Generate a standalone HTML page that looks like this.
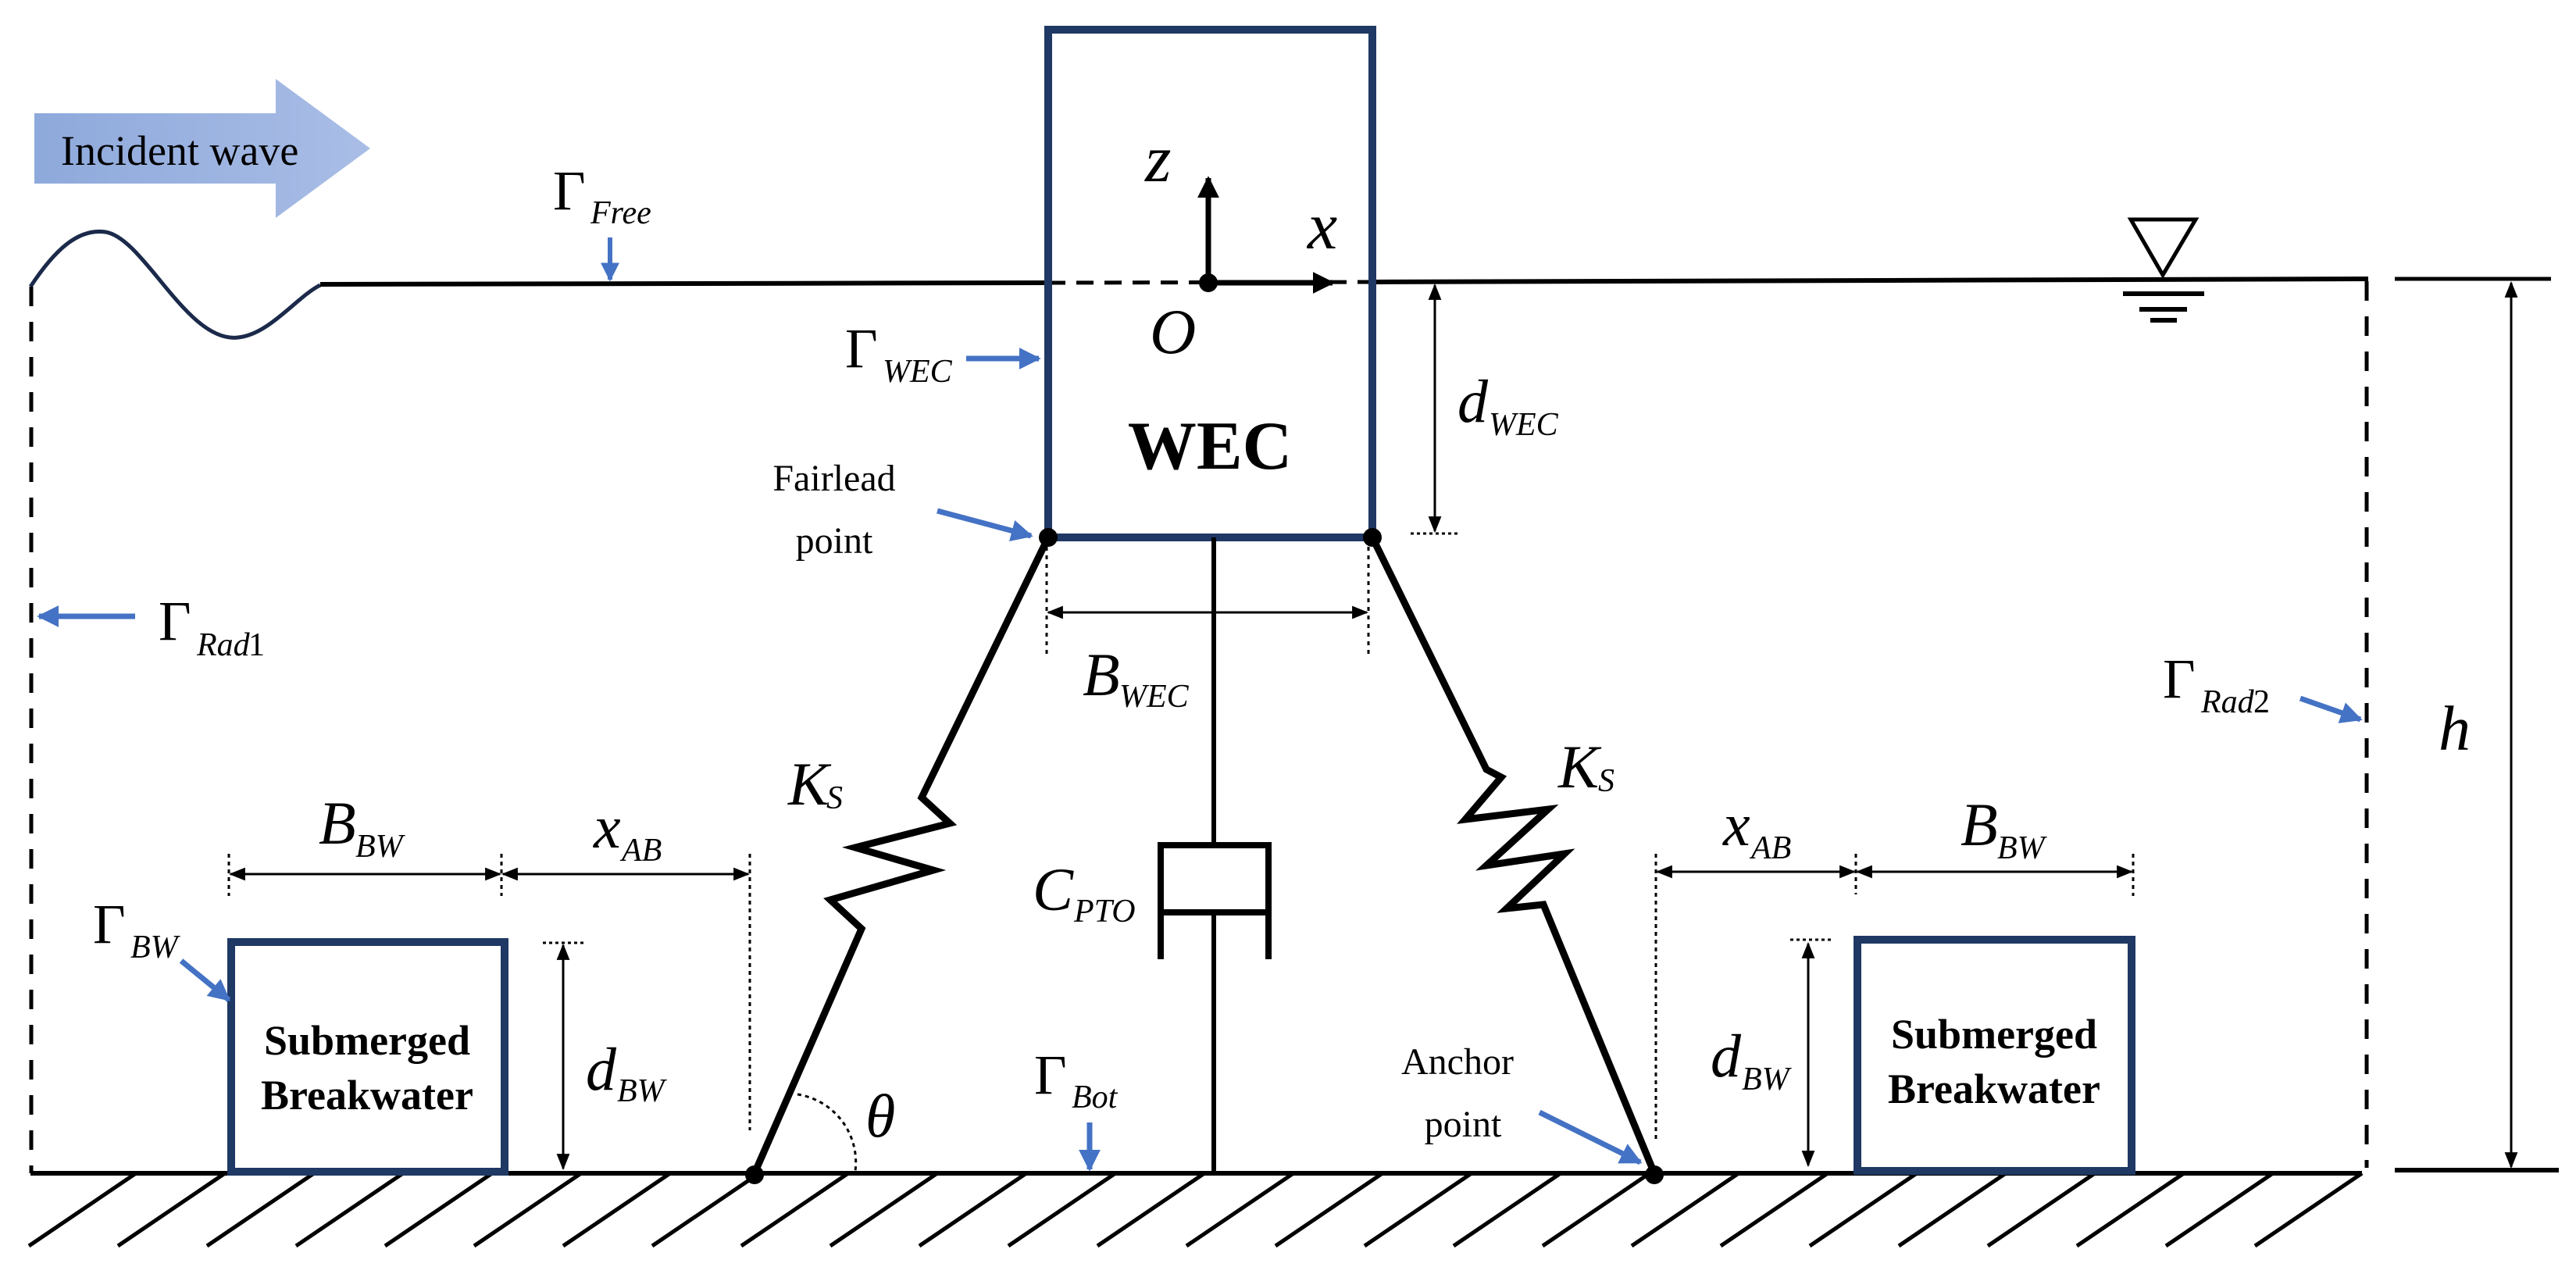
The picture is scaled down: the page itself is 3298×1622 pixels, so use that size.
<!DOCTYPE html>
<html><head><meta charset="utf-8"><style>
html,body{margin:0;padding:0;background:#fff;}
svg{display:block;}
text{font-family:"Liberation Serif",serif;fill:#000;}
.g{font-size:72px;}
.s{font-size:42px;font-style:italic;}
.m{font-style:italic;}
</style></head><body>
<svg width="3298" height="1622" viewBox="0 0 3298 1622" xmlns="http://www.w3.org/2000/svg" font-family="'Liberation Serif', serif">
<defs>
<marker id="bh" viewBox="0 0 10 10" refX="9" refY="5" markerWidth="4" markerHeight="4" orient="auto-start-reverse" markerUnits="strokeWidth"><path d="M0,0 L10,5 L0,10 z" fill="#4472c4"/></marker>
<marker id="kh" viewBox="0 0 10 10" refX="9" refY="5" markerWidth="7" markerHeight="7" orient="auto-start-reverse" markerUnits="strokeWidth"><path d="M0,1 L10,5 L0,9 z" fill="#000"/></marker>
<marker id="ah" viewBox="0 0 10 10" refX="9" refY="5" markerWidth="4" markerHeight="4" orient="auto" markerUnits="strokeWidth"><path d="M0,0 L10,5 L0,10 z" fill="#000"/></marker>
<linearGradient id="ig" x1="0" x2="1" y1="0" y2="0"><stop offset="0" stop-color="#8ea9db"/><stop offset="1" stop-color="#a9bde6"/></linearGradient>
</defs>

<path d="M44,145 L353,145 L353,101 L474,190 L353,279 L353,235 L44,235 z" fill="url(#ig)"/>
<text x="78" y="211" font-size="54" font-family="'Liberation Serif', serif">Incident wave</text>

<path d="M39,367 C70,320 100,292 135,297 C185,305 240,440 305,432 C345,428 380,380 410,365" fill="none" stroke="#1b2a4a" stroke-width="5"/>
<line x1="410" y1="364" x2="1342" y2="362" stroke="#000" stroke-width="6"/>
<line x1="1342" y1="362" x2="1757" y2="361" stroke="#000" stroke-width="5" stroke-dasharray="22,14"/>
<line x1="1757" y1="361" x2="3032" y2="357" stroke="#000" stroke-width="6"/>
<line x1="3066" y1="357" x2="3266" y2="357" stroke="#000" stroke-width="5"/>

<text x="708" y="268" class="g">Γ</text><text x="756" y="286" class="s">Free</text>
<line x1="781" y1="304" x2="781" y2="358" stroke="#4472c4" stroke-width="6" marker-end="url(#bh)"/>

<path d="M2728,281 L2811,281 L2769,352 z" fill="#fff" stroke="#000" stroke-width="5"/>
<line x1="2718" y1="376" x2="2822" y2="376" stroke="#000" stroke-width="6"/>
<line x1="2739" y1="396" x2="2800" y2="396" stroke="#000" stroke-width="6"/>
<line x1="2753" y1="410" x2="2787" y2="410" stroke="#000" stroke-width="6"/>

<line x1="40" y1="367" x2="40" y2="1502" stroke="#000" stroke-width="5" stroke-dasharray="25,20"/>
<line x1="3030" y1="360" x2="3030" y2="1495" stroke="#000" stroke-width="5" stroke-dasharray="25,20"/>
<text x="203" y="819" class="g">Γ</text><text x="252" y="839" class="s">Rad</text><text x="318" y="839" font-size="42">1</text>
<line x1="173" y1="789" x2="50" y2="789" stroke="#4472c4" stroke-width="7" marker-end="url(#bh)"/>
<text x="2769" y="893" class="g">Γ</text><text x="2818" y="912" class="s">Rad</text><text x="2885" y="912" font-size="42">2</text>
<line x1="2945" y1="894" x2="3022" y2="921" stroke="#4472c4" stroke-width="7" marker-end="url(#bh)"/>

<line x1="3215" y1="362" x2="3215" y2="1494" stroke="#000" stroke-width="3" marker-start="url(#kh)" marker-end="url(#kh)"/>
<text x="3122" y="960" font-size="82" class="m">h</text>

<line x1="39" y1="1502" x2="3024" y2="1502" stroke="#000" stroke-width="6"/>
<line x1="3066" y1="1498" x2="3276" y2="1498" stroke="#000" stroke-width="6"/>
<g stroke="#000" stroke-width="5">
<line x1="174" y1="1502" x2="37" y2="1595"/><line x1="288" y1="1502" x2="151" y2="1595"/><line x1="402" y1="1502" x2="265" y2="1595"/><line x1="516" y1="1502" x2="379" y2="1595"/><line x1="630" y1="1502" x2="493" y2="1595"/><line x1="744" y1="1502" x2="607" y2="1595"/><line x1="858" y1="1502" x2="721" y2="1595"/><line x1="972" y1="1502" x2="835" y2="1595"/><line x1="1086" y1="1502" x2="949" y2="1595"/><line x1="1200" y1="1502" x2="1063" y2="1595"/><line x1="1314" y1="1502" x2="1177" y2="1595"/><line x1="1428" y1="1502" x2="1291" y2="1595"/><line x1="1542" y1="1502" x2="1405" y2="1595"/><line x1="1656" y1="1502" x2="1519" y2="1595"/><line x1="1770" y1="1502" x2="1633" y2="1595"/><line x1="1884" y1="1502" x2="1747" y2="1595"/><line x1="1998" y1="1502" x2="1861" y2="1595"/><line x1="2112" y1="1502" x2="1975" y2="1595"/><line x1="2226" y1="1502" x2="2089" y2="1595"/><line x1="2340" y1="1502" x2="2203" y2="1595"/><line x1="2454" y1="1502" x2="2317" y2="1595"/><line x1="2568" y1="1502" x2="2431" y2="1595"/><line x1="2682" y1="1502" x2="2545" y2="1595"/><line x1="2796" y1="1502" x2="2659" y2="1595"/><line x1="2910" y1="1502" x2="2773" y2="1595"/><line x1="3024" y1="1502" x2="2887" y2="1595"/>
</g>

<rect x="1342" y="38" width="415" height="650" fill="none" stroke="#1f3864" stroke-width="10"/>
<text x="1549" y="600" font-size="88" font-weight="bold" text-anchor="middle">WEC</text>
<line x1="1547" y1="362" x2="1547" y2="228" stroke="#000" stroke-width="7" marker-end="url(#ah)"/>
<line x1="1547" y1="362" x2="1706" y2="362" stroke="#000" stroke-width="7" marker-end="url(#ah)"/>
<circle cx="1547" cy="362" r="12" fill="#000"/>
<text x="1466" y="232" font-size="86" class="m">z</text>
<text x="1674" y="318" font-size="86" class="m">x</text>
<text x="1472" y="452" font-size="82" class="m">O</text>
<text x="1082" y="470" class="g">Γ</text><text x="1130" y="489" class="s">WEC</text>
<line x1="1237" y1="459" x2="1330" y2="459" stroke="#4472c4" stroke-width="7" marker-end="url(#bh)"/>
<text x="1068" y="628" font-size="48" text-anchor="middle">Fairlead</text>
<text x="1068" y="708" font-size="48" text-anchor="middle">point</text>
<line x1="1200" y1="654" x2="1320" y2="686" stroke="#4472c4" stroke-width="7" marker-end="url(#bh)"/>

<line x1="1837" y1="365" x2="1837" y2="680" stroke="#000" stroke-width="3" marker-start="url(#kh)" marker-end="url(#kh)"/>
<line x1="1806" y1="683" x2="1869" y2="683" stroke="#000" stroke-width="3" stroke-dasharray="4,4"/>
<text x="1866" y="540" font-size="78" class="m">d</text><text x="1906" y="557" class="s">WEC</text>

<line x1="1340" y1="700" x2="1340" y2="840" stroke="#000" stroke-width="3" stroke-dasharray="5,6"/>
<line x1="1752" y1="700" x2="1752" y2="840" stroke="#000" stroke-width="3" stroke-dasharray="5,6"/>
<line x1="1342" y1="784" x2="1750" y2="784" stroke="#000" stroke-width="3" marker-start="url(#kh)" marker-end="url(#kh)"/>
<text x="1386" y="890" font-size="78" class="m">B</text><text x="1433" y="905" class="s">WEC</text>

<line x1="1554" y1="688" x2="1554" y2="1080" stroke="#000" stroke-width="6"/>
<line x1="1554" y1="1168" x2="1554" y2="1502" stroke="#000" stroke-width="6"/>
<rect x="1486" y="1082" width="138" height="86" fill="none" stroke="#000" stroke-width="8"/>
<line x1="1486" y1="1168" x2="1486" y2="1228" stroke="#000" stroke-width="8"/>
<line x1="1624" y1="1168" x2="1624" y2="1228" stroke="#000" stroke-width="8"/>
<text x="1322" y="1165" font-size="78" class="m">C</text><text x="1375" y="1180" class="s">PTO</text>

<polyline points="1342,688 1180,1021 1216,1054 1095,1085 1195,1114 1063,1152 1103,1189 966,1502" fill="none" stroke="#000" stroke-width="9" stroke-linejoin="miter"/>
<polyline points="1757,688 1903,985 1922,995 1876,1049 1982,1036 1903,1108 2003,1093 1929,1163 1976,1158 2118,1502" fill="none" stroke="#000" stroke-width="9"/>
<circle cx="1342" cy="688" r="12" fill="#000"/>
<circle cx="1757" cy="688" r="12" fill="#000"/>
<circle cx="966" cy="1504" r="12" fill="#000"/>
<circle cx="2118" cy="1504" r="12" fill="#000"/>
<text x="1009" y="1030" font-size="78" class="m">K</text><text x="1058" y="1035" class="s">S</text>
<text x="1995" y="1008" font-size="78" class="m">K</text><text x="2046" y="1013" class="s">S</text>

<path d="M1021,1401 A88,88 0 0 1 1095,1499" fill="none" stroke="#000" stroke-width="3" stroke-dasharray="5,5"/>
<text x="1108" y="1455" font-size="78" class="m">θ</text>

<text x="1324" y="1400" class="g">Γ</text><text x="1372" y="1418" class="s">Bot</text>
<line x1="1395" y1="1437" x2="1395" y2="1497" stroke="#4472c4" stroke-width="7" marker-end="url(#bh)"/>

<rect x="296" y="1206" width="350" height="294" fill="none" stroke="#1f3864" stroke-width="10"/>
<text x="470" y="1350" font-size="54" font-weight="bold" text-anchor="middle">Submerged</text>
<text x="470" y="1420" font-size="54" font-weight="bold" text-anchor="middle">Breakwater</text>
<text x="119" y="1207" class="g">Γ</text><text x="167" y="1226" class="s">BW</text>
<line x1="232" y1="1230" x2="293" y2="1280" stroke="#4472c4" stroke-width="7" marker-end="url(#bh)"/>
<line x1="293" y1="1093" x2="293" y2="1147" stroke="#000" stroke-width="3" stroke-dasharray="5,5"/>
<line x1="642" y1="1093" x2="642" y2="1147" stroke="#000" stroke-width="3" stroke-dasharray="5,5"/>
<line x1="960" y1="1093" x2="960" y2="1447" stroke="#000" stroke-width="3" stroke-dasharray="5,5"/>
<line x1="295" y1="1119" x2="640" y2="1119" stroke="#000" stroke-width="3" marker-start="url(#kh)" marker-end="url(#kh)"/>
<line x1="644" y1="1119" x2="958" y2="1119" stroke="#000" stroke-width="3" marker-start="url(#kh)" marker-end="url(#kh)"/>
<text x="408" y="1080" font-size="78" class="m">B</text><text x="455" y="1097" class="s">BW</text>
<text x="760" y="1085" font-size="78" class="m">x</text><text x="796" y="1102" class="s">AB</text>
<line x1="721" y1="1210" x2="721" y2="1496" stroke="#000" stroke-width="3" marker-start="url(#kh)" marker-end="url(#kh)"/>
<line x1="695" y1="1207" x2="747" y2="1207" stroke="#000" stroke-width="3" stroke-dasharray="4,4"/>
<text x="750" y="1395" font-size="78" class="m">d</text><text x="790" y="1410" class="s">BW</text>

<rect x="2378" y="1203" width="351" height="296" fill="none" stroke="#1f3864" stroke-width="10"/>
<text x="2553" y="1342" font-size="54" font-weight="bold" text-anchor="middle">Submerged</text>
<text x="2553" y="1412" font-size="54" font-weight="bold" text-anchor="middle">Breakwater</text>
<line x1="2120" y1="1093" x2="2120" y2="1458" stroke="#000" stroke-width="3" stroke-dasharray="5,5"/>
<line x1="2376" y1="1093" x2="2376" y2="1145" stroke="#000" stroke-width="3" stroke-dasharray="5,5"/>
<line x1="2731" y1="1093" x2="2731" y2="1147" stroke="#000" stroke-width="3" stroke-dasharray="5,5"/>
<line x1="2122" y1="1116" x2="2374" y2="1116" stroke="#000" stroke-width="3" marker-start="url(#kh)" marker-end="url(#kh)"/>
<line x1="2378" y1="1116" x2="2729" y2="1116" stroke="#000" stroke-width="3" marker-start="url(#kh)" marker-end="url(#kh)"/>
<text x="2206" y="1082" font-size="78" class="m">x</text><text x="2242" y="1099" class="s">AB</text>
<text x="2510" y="1082" font-size="78" class="m">B</text><text x="2557" y="1099" class="s">BW</text>
<line x1="2315" y1="1208" x2="2315" y2="1492" stroke="#000" stroke-width="3" marker-start="url(#kh)" marker-end="url(#kh)"/>
<line x1="2292" y1="1203" x2="2345" y2="1203" stroke="#000" stroke-width="3" stroke-dasharray="4,4"/>
<text x="2190" y="1378" font-size="78" class="m">d</text><text x="2230" y="1395" class="s">BW</text>
<text x="1866" y="1375" font-size="48" text-anchor="middle">Anchor</text>
<text x="1873" y="1455" font-size="48" text-anchor="middle">point</text>
<line x1="1971" y1="1424" x2="2100" y2="1488" stroke="#4472c4" stroke-width="7" marker-end="url(#bh)"/>
</svg>
</body></html>
